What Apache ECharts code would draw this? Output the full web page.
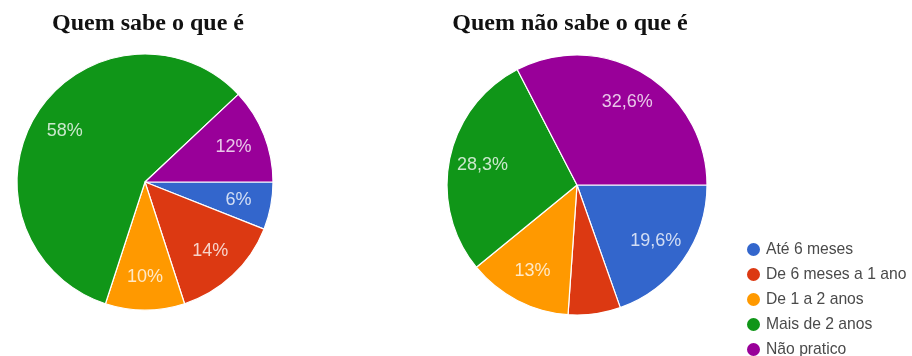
<!DOCTYPE html>
<html>
<head>
<meta charset="utf-8">
<script src="https://cdn.jsdelivr.net/npm/echarts@6/dist/echarts.min.js"></script>
<style>
html,body{margin:0;padding:0;background:#fff;}
#chart{width:912px;height:356px;}
</style>
</head>
<body>
<div id="chart"></div>
<script>
var categories = ['Até 6 meses', 'De 6 meses a 1 ano', 'De 1 a 2 anos', 'Mais de 2 anos', 'Não pratico'];
var titleLeft = 'Quem sabe o que é';
var titleRight = 'Quem não sabe o que é';
var valuesLeft = [6, 14, 10, 58, 12];
var valuesRight = [19.6, 6.5, 13, 28.3, 32.6];
var labelsLeft = ['6%', '14%', '10%', '58%', '12%'];
var labelsRight = ['19,6%', '', '13%', '28,3%', '32,6%'];
var colors = ['#3366cc', '#dc3912', '#ff9900', '#109618', '#990099'];

function pieData(values, labels) {
  return values.map(function (v, i) {
    return { name: categories[i], value: v, labelText: labels[i] };
  });
}

function mainPie(values, labels, cx, cy, r) {
  return {
    type: 'pie',
    center: [cx, cy],
    radius: [0, r],
    startAngle: 0,
    clockwise: true,
    silent: true,
    label: { show: false },
    labelLine: { show: false },
    itemStyle: { borderColor: '#ffffff', borderWidth: 1.2 },
    data: pieData(values, labels)
  };
}

function labelPie(values, labels, cx, cy, r) {
  return {
    type: 'pie',
    center: [cx, cy],
    radius: [r * 0.44, r],
    startAngle: 0,
    clockwise: true,
    silent: true,
    avoidLabelOverlap: false,
    itemStyle: { color: 'rgba(0,0,0,0)', borderWidth: 0 },
    label: {
      show: true,
      position: 'inside',
      color: 'rgba(255,255,255,0.78)',
      fontFamily: 'Arial, "Liberation Sans", sans-serif',
      fontSize: 18,
      formatter: function (p) { return p.data.labelText; }
    },
    labelLine: { show: false },
    data: pieData(values, labels)
  };
}

var chart = echarts.init(document.getElementById('chart'), null, { renderer: 'canvas' });
chart.setOption({
  animation: false,
  color: colors,
  title: [
    { text: titleLeft, left: 143, top: 7, textAlign: 'center',
      textStyle: { fontFamily: '"Liberation Serif", serif', fontWeight: 'bold', fontSize: 24, color: '#111' } },
    { text: titleRight, left: 565, top: 7, textAlign: 'center',
      textStyle: { fontFamily: '"Liberation Serif", serif', fontWeight: 'bold', fontSize: 24, color: '#111' } }
  ],
  legend: {
    orient: 'vertical',
    left: 740,
    top: 236,
    height: 120,
    icon: 'circle',
    itemWidth: 15,
    itemHeight: 15,
    itemGap: 8,
    data: categories,
    textStyle: { fontFamily: 'Arial, "Liberation Sans", sans-serif', fontSize: 15.7, color: '#4a4a4a' }
  },
  series: [
    mainPie(valuesLeft, labelsLeft, 145, 182, 128),
    labelPie(valuesLeft, labelsLeft, 145, 182, 128),
    mainPie(valuesRight, labelsRight, 577, 185, 130),
    labelPie(valuesRight, labelsRight, 577, 185, 130)
  ]
});
</script>
</body>
</html>
